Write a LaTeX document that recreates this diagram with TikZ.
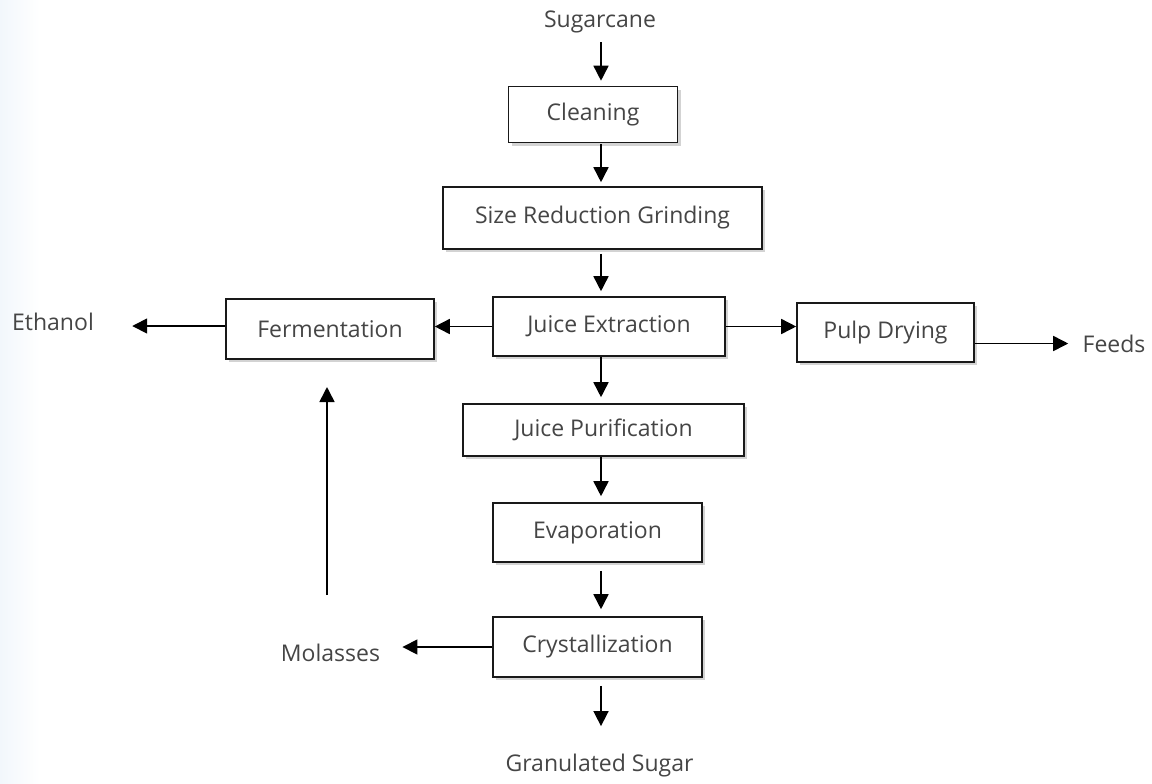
\documentclass[tikz,border=0pt]{standalone}
\usepackage{fontspec}
\setmainfont{Open Sans}
\usepackage{tikz}
\usetikzlibrary{arrows.meta,shadows}
\definecolor{txtgray}{HTML}{454545}
\definecolor{stripblue}{HTML}{F2F7FC}

\begin{document}
\begin{tikzpicture}[x=0.5pt,y=-0.5pt,
    procbox/.style={draw=black!90,line width=0.8pt,fill=white,text=txtgray,
        font=\fontsize{11.5}{13}\selectfont,inner sep=0pt,
        drop shadow={shadow xshift=1.5pt,shadow yshift=-1.5pt,opacity=.35}},
    endtext/.style={text=txtgray,font=\fontsize{11.5}{13}\selectfont,inner sep=0pt},
    flow/.style={-{Triangle[length=7.5pt,width=7.5pt]},line width=0.8pt}]
    \useasboundingbox (0,0) rectangle (1152,783);
    \shade[left color=stripblue,right color=white] (0,0) rectangle (40,783);
    \coordinate (spine) at (601,0);
    % Process boxes
    \node[procbox,minimum width=84.5pt,minimum height=28pt] (clean) at (593,114.5) {Cleaning};
    \node[procbox,minimum width=159.5pt,minimum height=31pt] (grind) at (602.5,218) {Size Reduction Grinding};
    \node[procbox,minimum width=116pt,minimum height=29.5pt] (extract) at (609,326.5) {Juice Extraction};
    \node[procbox,minimum width=104pt,minimum height=30pt] (ferm) at (330,329) {Fermentation};
    \node[procbox,minimum width=88.5pt,minimum height=29.5pt] (pulp) at (885.5,332.5) {Pulp Drying};
    \node[procbox,minimum width=140.5pt,minimum height=26pt] (purify) at (603.5,430) {Juice Purification};
    \node[procbox,minimum width=104.5pt,minimum height=29.5pt] (evap) at (597.5,532.5) {Evaporation};
    \node[procbox,minimum width=104.5pt,minimum height=30pt] (cryst) at (597.5,647) {Crystallization};
    % Inputs and products
    \node[endtext] (sugar) at (600,22) {Sugarcane};
    \node[endtext] (ethanol) at (53,321.5) {Ethanol};
    \node[endtext] (feeds) at (1114,343.5) {Feeds};
    \node[endtext] (molasses) at (330.5,653) {Molasses};
    \node[endtext] (gran) at (599.5,766) {Granulated Sugar};
    \coordinate (molbot) at (327,595);
    \coordinate (moltop) at (327,387);
    % Main line
    \draw[flow,shorten <=4.5pt,shorten >=2.5pt] (sugar.south -| spine) -- (clean.north -| spine);
    \foreach \a/\b/\s/\t in {clean/grind/0.5/2,grind/extract/2/2.5,extract/purify/0/3,
                             purify/evap/0/3,evap/cryst/4/3.5}
        \draw[flow,shorten <=\s pt,shorten >=\t pt] (\a.south -| spine) -- (\b.north -| spine);
    \draw[flow,shorten <=4pt,shorten >=14pt] (cryst.south -| spine) -- (gran.north -| spine);
    % Side streams
    \draw[flow] (extract.west) -- (extract.west -| ferm.east);
    \draw[flow] (extract.east) -- (extract.east -| pulp.west);
    \draw[flow,shorten >=19pt] ([yshift=1.5pt]ferm.west) -- ([yshift=1.5pt]ferm.west -| ethanol.east);
    \draw[flow,shorten >=7pt] (pulp.east |- feeds) -- (feeds.west);
    \draw[flow,shorten >=11pt] (cryst.west) -- (cryst.west -| molasses.east);
    \draw[flow] (molbot) -- (moltop);
\end{tikzpicture}
\end{document}
